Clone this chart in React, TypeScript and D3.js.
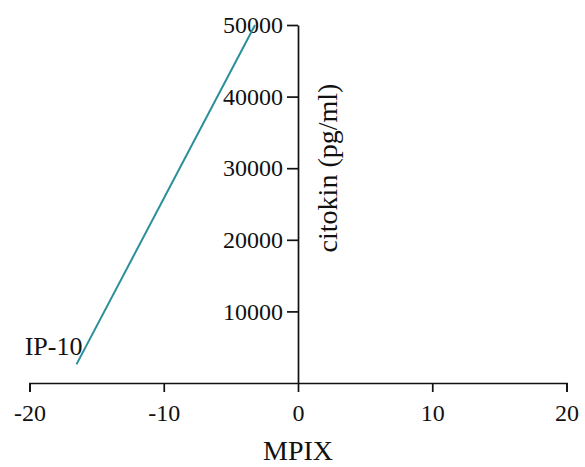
import React, { useEffect, useRef } from "react";
import * as d3 from "d3";

const xTicks = [-20, -10, 0, 10, 20];
const yTicks = [10000, 20000, 30000, 40000, 50000];
const seriesName = "IP-10";
const lineX = [-16.5, -3.2];
const lineY = [2600, 50000];
const xLabel = "MPIX";
const yLabel = "citokin (pg/ml)";

const W = 585;
const H = 467;

export default function App() {
  const ref = useRef<SVGSVGElement | null>(null);

  useEffect(() => {
    const svg = d3.select(ref.current);
    svg.selectAll("*").remove();
    const font = "'Liberation Serif', 'Times New Roman', serif";

    const x = d3.scaleLinear().domain([-20, 20]).range([29.5, 566.5]);
    const y = d3.scaleLinear().domain([0, 50000]).range([383, 25]);

    // x axis
    const gx = svg.append("g").attr("transform", `translate(0,${y(0)})`);
    gx.call(
      d3.axisBottom(x).tickValues(xTicks).tickSize(9).tickPadding(12).tickFormat(d3.format("d")) as any
    );
    gx.select(".domain").attr("stroke", "#111").attr("stroke-width", 1.7);
    gx.selectAll(".tick line").attr("stroke", "#111").attr("stroke-width", 1.7);
    gx.selectAll(".tick text")
      .attr("font-family", font)
      .attr("font-size", 24)
      .attr("fill", "#111")
      .text((d: any) => (d < 0 ? "-" + Math.abs(d) : String(d)));

    // y axis
    const gy = svg.append("g").attr("transform", `translate(${x(0)},0)`);
    gy.call(
      d3.axisLeft(y).tickValues(yTicks).tickSize(11).tickSizeOuter(0).tickPadding(4).tickFormat(d3.format("d")) as any
    );
    gy.select(".domain").attr("stroke", "#111").attr("stroke-width", 1.7);
    gy.selectAll(".tick line").attr("stroke", "#111").attr("stroke-width", 1.7);
    gy.selectAll(".tick text")
      .attr("font-family", font)
      .attr("font-size", 24)
      .attr("fill", "#111");

    // series line
    const pts = lineX.map((v, i) => [v, lineY[i]] as [number, number]);
    svg
      .append("path")
      .datum(pts)
      .attr("fill", "none")
      .attr("stroke", "#2a8f98")
      .attr("stroke-width", 2)
      .attr(
        "d",
        d3
          .line<[number, number]>()
          .x((d) => x(d[0]))
          .y((d) => y(d[1]))
      );

    // series label
    svg
      .append("text")
      .attr("x", x(lineX[0]) + 6)
      .attr("y", y(lineY[0]) - 9)
      .attr("text-anchor", "end")
      .attr("font-family", font)
      .attr("font-size", 26)
      .attr("fill", "#111")
      .text(seriesName);

    // axis titles
    svg
      .append("text")
      .attr("x", x(0))
      .attr("y", 460)
      .attr("text-anchor", "middle")
      .attr("font-family", font)
      .attr("font-size", 28)
      .attr("fill", "#111")
      .text(xLabel);

    svg
      .append("text")
      .attr("transform", `translate(337,168) rotate(-90)`)
      .attr("text-anchor", "middle")
      .attr("font-family", font)
      .attr("font-size", 28)
      .attr("fill", "#111")
      .text(yLabel);
  }, []);

  return (
    <svg
      ref={ref}
      width={W}
      height={H}
      style={{ position: "absolute", left: 0, top: 0, background: "#fff" }}
    />
  );
}
